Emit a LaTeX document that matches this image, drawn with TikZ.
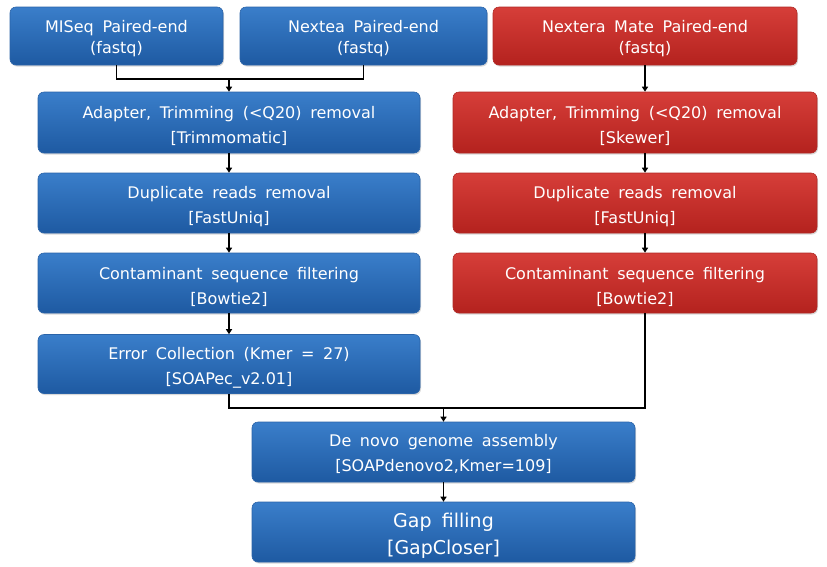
\documentclass[tikz,border=0pt]{standalone}
\usepackage{fontspec}
\setmainfont[WordSpace=1.7]{DejaVu Sans}
\usetikzlibrary{arrows.meta,shadows}
\definecolor{bluetop}{HTML}{3A7ECA}
\definecolor{bluebot}{HTML}{1E5AA2}
\definecolor{blueedge}{HTML}{2A63A8}
\definecolor{redtop}{HTML}{D63E39}
\definecolor{redbot}{HTML}{B4221E}
\definecolor{rededge}{HTML}{B02A26}
\newcommand{\liftby}[1]{\rule{0pt}{#1}}
\tikzset{
  box/.style={rounded corners=6pt, draw=#1edge, line width=0.6pt, top color=#1top, bottom color=#1bot,
    text=white, align=center, font=\fontsize{16}{25}\selectfont, inner sep=0pt,
    drop shadow={opacity=0.3, shadow xshift=1pt, shadow yshift=-1.5pt}},
  toprow/.style={font=\fontsize{16}{21}\selectfont},
  conn/.style={line width=1.8pt, black},
  arr/.style={conn, -{Triangle[length=5pt,width=6pt]}},
}
\begin{document}
\begin{tikzpicture}[x=1pt,y=-1pt]
\useasboundingbox (0,0) rectangle (827,566);
\node[box=blue, toprow, minimum width=213pt, minimum height=58pt] (m1) at (116.5,36) {\liftby{17pt}MISeq Paired-end\\(fastq)};
\node[box=blue, toprow, minimum width=247pt, minimum height=58pt] (m2) at (363.5,36) {\liftby{17pt}Nextea Paired-end\\(fastq)};
\node[box=red, toprow, minimum width=304pt, minimum height=58pt] (m3) at (645,36) {\liftby{17pt}Nextera Mate Paired-end\\(fastq)};
\node[box=blue, minimum width=382pt, minimum height=61pt] (a1) at (229,122.5) {\liftby{20pt}Adapter, Trimming (<Q20) removal\\{}[Trimmomatic]};
\node[box=red, minimum width=364pt, minimum height=61pt] (a2) at (635,122.5) {\liftby{20pt}Adapter, Trimming (<Q20) removal\\{}[Skewer]};
\node[box=blue, minimum width=382pt, minimum height=60pt] (d1) at (229,203) {\liftby{20pt}Duplicate reads removal\\{}[FastUniq]};
\node[box=red, minimum width=364pt, minimum height=60pt] (d2) at (635,203) {\liftby{20pt}Duplicate reads removal\\{}[FastUniq]};
\node[box=blue, minimum width=382pt, minimum height=60pt] (c1) at (229,283) {\liftby{20pt}Contaminant sequence filtering\\{}[Bowtie2]};
\node[box=red, minimum width=364pt, minimum height=60pt] (c2) at (635,283) {\liftby{20pt}Contaminant sequence filtering\\{}[Bowtie2]};
\node[box=blue, minimum width=382pt, minimum height=59pt] (e1) at (229,364) {\liftby{20pt}Error Collection (Kmer = 27)\\{}[SOAPec\_v2.01]};
\node[box=blue, minimum width=383pt, minimum height=60pt] (g1) at (443.5,452) {\liftby{16pt}De novo genome assembly\\{}[SOAPdenovo2,Kmer=109]};
\node[box=blue, minimum width=383pt, minimum height=60pt, font=\fontsize{19}{27}\selectfont] (g2) at (443.5,532) {\liftby{21pt}Gap filling\\{}[GapCloser]};
% top merge
\coordinate (j1) at (a1.north |- 0,79);
\draw[conn] (m1.south) -- (m1.south |- j1) -- (m2.south |- j1) -- (m2.south);
\draw[arr] (j1) -- (a1.north);
\draw[arr] (m3.south) -- (m3.south |- a2.north);
\draw[arr] (a1.south) -- (d1.north);
\draw[arr] (d1.south) -- (c1.north);
\draw[arr] (c1.south) -- (e1.north);
\draw[arr] ([xshift=10pt]a2.south) -- ([xshift=10pt]d2.north);
\draw[arr] ([xshift=10pt]d2.south) -- ([xshift=10pt]c2.north);
% bottom merge
\coordinate (j2) at (g1.north |- 0,408);
\draw[conn] (e1.south) -- (e1.south |- j2) -- ([xshift=10pt]c2.south |- j2) -- ([xshift=10pt]c2.south);
\draw[arr] (j2) -- (g1.north);
\draw[arr] (g1.south) -- (g2.north);
\end{tikzpicture}
\end{document}
